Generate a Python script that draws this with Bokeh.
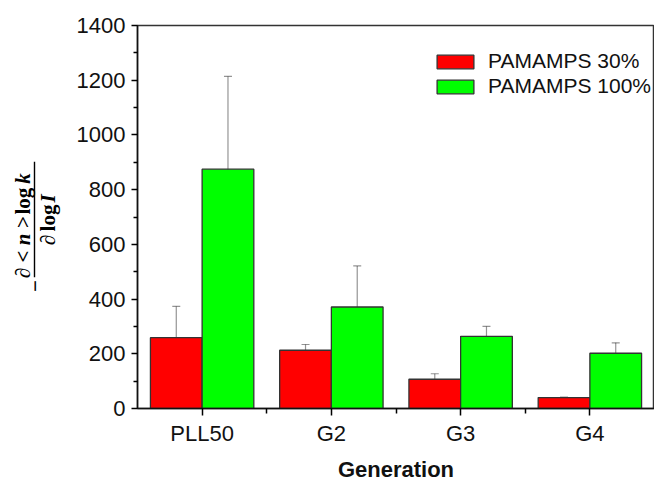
import math
from bokeh.plotting import figure
from bokeh.layouts import row
from bokeh.models import (ColumnDataSource, FixedTicker, Whisker, TeeHead, Legend,
                          LegendItem)
from bokeh.core.properties import value
from bokeh.embed import file_html
from bokeh.resources import INLINE

categories = ["PLL50", "G2", "G3", "G4"]
series_names = ["PAMAMPS 30%", "PAMAMPS 100%"]
values_30 = [259, 213, 107, 40]
errors_30 = [114, 21, 20, 2]
values_100 = [875, 371, 264, 202]
errors_100 = [339, 150, 36, 38]
y_ticks = [0, 200, 400, 600, 800, 1000, 1200, 1400]

TOTAL_W, H = 654, 484
LW = 70                      # width of the y-label strip
W = TOTAL_W - LW
FL = 137 - LW                # frame left inside main figure
FT, FB = 25, 410

p = figure(width=W, height=H, output_backend="svg", toolbar_location=None,
           x_range=(0, len(categories)), y_range=(0, 1400),
           min_border_left=FL, min_border_right=0, min_border_top=FT,
           min_border_bottom=H - FB)
p.xgrid.visible = False
p.ygrid.visible = False
p.outline_line_color = "#333333"
p.outline_line_width = 1.5

xc = [i + 0.5 for i in range(len(categories))]
x30 = [c - 0.2 for c in xc]
x100 = [c + 0.2 for c in xc]

s30 = ColumnDataSource(dict(x=x30, top=values_30,
                            lo=[v - e for v, e in zip(values_30, errors_30)],
                            hi=[v + e for v, e in zip(values_30, errors_30)]))
s100 = ColumnDataSource(dict(x=x100, top=values_100,
                             lo=[v - e for v, e in zip(values_100, errors_100)],
                             hi=[v + e for v, e in zip(values_100, errors_100)]))

r30 = p.vbar(x="x", top="top", width=0.4, source=s30, fill_color="#FF0000",
             line_color="#333333", line_width=1.3)
r100 = p.vbar(x="x", top="top", width=0.4, source=s100, fill_color="#00FF00",
              line_color="#333333", line_width=1.3)

for src in (s30, s100):
    w = Whisker(base="x", lower="lo", upper="hi", source=src,
                line_color="black", line_alpha=0.42, line_width=1.2,
                upper_head=TeeHead(size=8, line_color="black", line_alpha=0.42, line_width=1.2),
                lower_head=TeeHead(size=8, line_color="black", line_alpha=0.42, line_width=1.2))
    p.add_layout(w)

ax = p.xaxis[0]
ax.ticker = FixedTicker(ticks=xc, minor_ticks=[1, 2, 3])
ax.major_label_overrides = {c: lab for c, lab in zip(xc, categories)}
ax.axis_label = "Generation"
ax.axis_label_text_font = "Liberation Sans"
ax.axis_label_text_font_style = "bold"
ax.axis_label_text_font_size = "22px"
ax.axis_label_text_color = "#111111"
ax.axis_label_standoff = 8
ax.major_label_text_font = "Liberation Sans"
ax.major_label_text_font_size = "22px"
ax.major_label_text_color = "#111111"
ax.major_label_standoff = 5
ax.major_tick_in = 0
ax.major_tick_out = 7
ax.minor_tick_in = 0
ax.minor_tick_out = 5
ax.axis_line_width = 1.5
ax.axis_line_color = "#111111"
ax.major_tick_line_width = 1.5
ax.minor_tick_line_width = 1.5

ay = p.yaxis[0]
ay.ticker = FixedTicker(ticks=y_ticks, minor_ticks=list(range(100, 1400, 200)))
ay.major_label_text_font = "Liberation Sans"
ay.major_label_text_font_size = "22px"
ay.major_label_text_color = "#111111"
ay.major_label_standoff = 6
ay.major_tick_in = 0
ay.major_tick_out = 6
ay.minor_tick_in = 0
ay.minor_tick_out = 4
ay.axis_line_width = 1.5
ay.axis_line_color = "#111111"
ay.major_tick_line_width = 1.5
ay.minor_tick_line_width = 1.5

legend = Legend(items=[LegendItem(label=series_names[0], renderers=[r30]),
                       LegendItem(label=series_names[1], renderers=[r100])],
                location=(285, 300), padding=10, spacing=1,
                glyph_width=46, glyph_height=17, label_height=17,
                label_standoff=10, label_text_font="Liberation Sans",
                label_text_font_size="21px", label_text_color="#111111",
                border_line_alpha=0, background_fill_alpha=0, margin=0)
p.add_layout(legend, "center")

# y-axis label strip: -(d<n>log k)/(d log I), drawn as real text.
# Its frame is aligned with the main frame (rows align plot frames), so the
# y range is expressed in page pixels of that frame.
q = figure(width=LW, height=H, output_backend="svg", toolbar_location=None,
           x_range=(0, LW), y_range=(H - FB, H - FT), x_axis_type=None, y_axis_type=None,
           min_border_left=0, min_border_right=0, min_border_top=FT,
           min_border_bottom=H - FB)
q.xgrid.visible = False
q.ygrid.visible = False
q.outline_line_color = None

yfont = value("Liberation Serif")
def piece(x, py, txt, style, align="left", size="21px"):
    q.text(x=[x], y=[H - py], text=[txt], angle=math.pi / 2, text_align=align,
           text_baseline="middle", text_font=yfont, text_font_style=style,
           text_font_size=size, text_color="black")

piece(22, 279, "∂ < n >", "bold italic")
piece(22, 215, "log", "bold")
piece(22, 184, "k", "bold italic")
piece(47, 246, "∂", "bold italic")
piece(47, 232, "log", "bold")
piece(47, 203, "I", "bold italic")
piece(34, 287, "−", "bold", "center")
q.quad(left=[33.3], right=[34.7], top=[H - 162], bottom=[H - 278],
       fill_color="black", line_color=None)

layout = row(q, p, spacing=0)
open("out.html", "w").write(file_html(layout, INLINE))
